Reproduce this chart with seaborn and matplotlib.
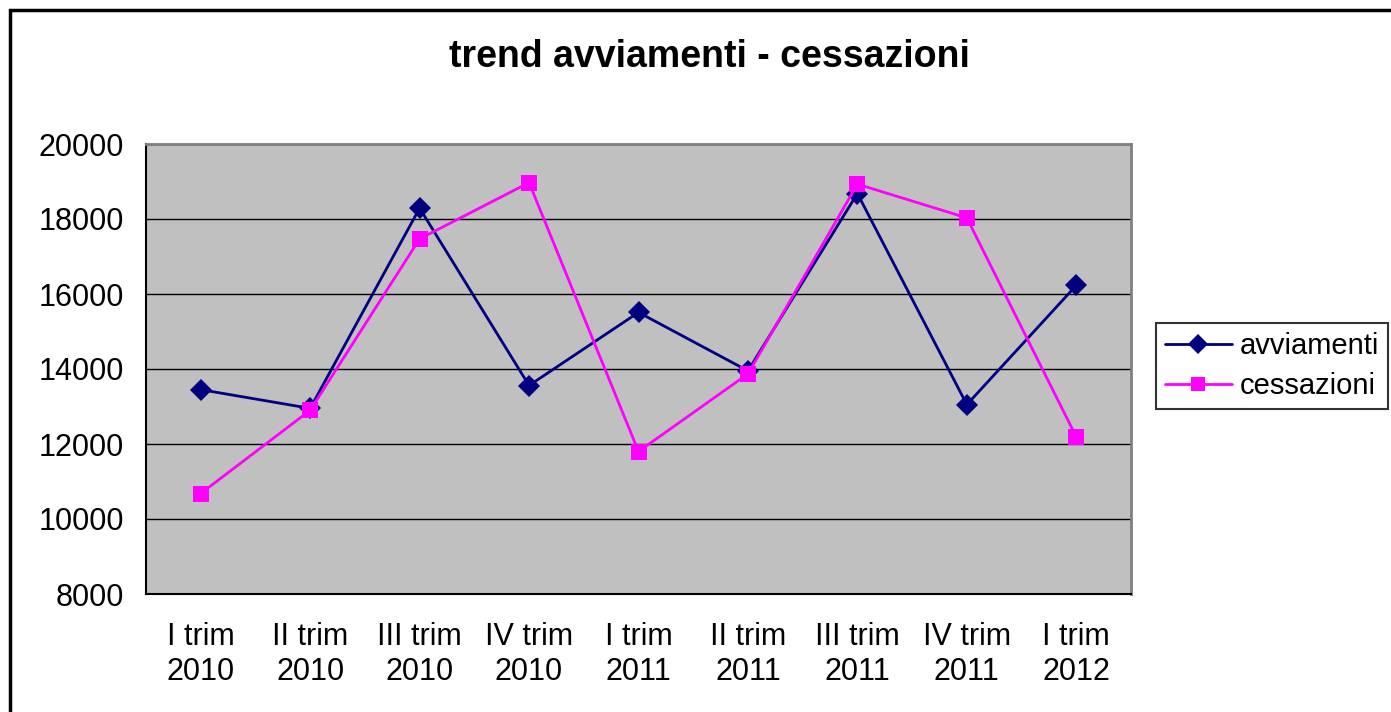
import pandas as pd
import numpy as np
import matplotlib
matplotlib.use("Agg")
import matplotlib.pyplot as plt
import seaborn as sns
from matplotlib.patches import Rectangle
from matplotlib.lines import Line2D

# dati
trimestri = ["I trim\n2010", "II trim\n2010", "III trim\n2010", "IV trim\n2010",
             "I trim\n2011", "II trim\n2011", "III trim\n2011", "IV trim\n2011",
             "I trim\n2012"]
avviamenti = [13450, 12950, 18290, 13560, 15510, 13950, 18680, 13050, 16230]
cessazioni = [10680, 12900, 17470, 18970, 11800, 13870, 18930, 18030, 12190]

pos = list(range(len(trimestri)))
df = pd.DataFrame({
    "pos": pos * 2,
    "valore": avviamenti + cessazioni,
    "serie": ["avviamenti"] * len(pos) + ["cessazioni"] * len(pos),
})

sns.set_style("white")
plt.rcParams["font.family"] = ["Liberation Sans", "DejaVu Sans"]
plt.rcParams["text.color"] = "black"
plt.rcParams["xtick.color"] = "black"
plt.rcParams["ytick.color"] = "black"

fig = plt.figure(figsize=(13.91, 7.12), dpi=100)
ax = fig.add_axes([146 / 1391, 1 - 594 / 712, (1131 - 146) / 1391, (594 - 144) / 712])

# cornice esterna del grafico
fig.patches.append(Rectangle((10 / 1391, -0.1), 1.2, 1 - 10 / 712 + 0.1,
                             transform=fig.transFigure, fill=False,
                             edgecolor="black", linewidth=2.5, zorder=0))

ax.set_facecolor("#C0C0C0")
sns.lineplot(data=df, x="pos", y="valore", hue="serie", style="serie",
             palette={"avviamenti": "#000080", "cessazioni": "#FF00FF"},
             markers={"avviamenti": "D", "cessazioni": "s"},
             dashes=False, markersize=11, linewidth=2, markeredgewidth=0,
             ax=ax, legend=False, zorder=3)

ax.set_xlim(-0.5, len(trimestri) - 0.5)
ax.set_ylim(8000, 20000)
ax.set_yticks(np.arange(8000, 20001, 2000))
ax.set_yticklabels([str(v) for v in range(8000, 20001, 2000)], fontsize=22)
ax.yaxis.grid(True, color="black", linewidth=1)
ax.set_axisbelow(True)

ax.set_xticks(pos)
ax.set_xticklabels(trimestri, fontsize=22, linespacing=1.22)
ax.tick_params(axis="x", which="major", length=0, pad=20)
ax.set_xticks(np.arange(-0.5, len(trimestri), 1), minor=True)
ax.tick_params(axis="x", which="minor", length=8, width=1.2, color="black", direction="out")
ax.tick_params(axis="y", length=6, width=1.2, color="black", direction="out", pad=10)
ax.set_xlabel("")
ax.set_ylabel("")

for lato in ["top", "right"]:
    ax.spines[lato].set_color("#808080")
    ax.spines[lato].set_linewidth(2)
for lato in ["left", "bottom"]:
    ax.spines[lato].set_color("black")
    ax.spines[lato].set_linewidth(1.5)

fig.text(709 / 1391, 1 - 57 / 712, "trend avviamenti - cessazioni",
         ha="center", va="center", fontsize=27, fontweight="bold")

# legenda
handles = [
    Line2D([], [], color="#000080", marker="D", markersize=10, linewidth=2, markeredgewidth=0),
    Line2D([], [], color="#FF00FF", marker="s", markersize=10, linewidth=2, markeredgewidth=0),
]
leg = fig.legend(handles, ["avviamenti", "cessazioni"],
                 loc="upper left", bbox_to_anchor=(1156 / 1391, 1 - 323 / 712),
                 fontsize=21, frameon=True, fancybox=False, edgecolor="black",
                 handlelength=2.3, handletextpad=0.28, borderpad=0.3,
                 labelspacing=0.42, borderaxespad=0)
leg.get_frame().set_linewidth(1.5)

fig.savefig("out.png", dpi=100, facecolor="white")
